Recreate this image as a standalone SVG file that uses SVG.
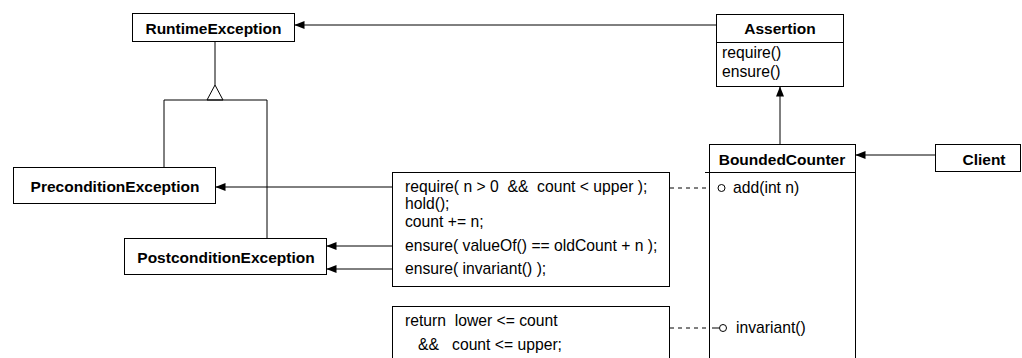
<svg xmlns="http://www.w3.org/2000/svg" width="1022" height="358" viewBox="0 0 1022 358">
<defs>
<style>
.box{fill:#fff;stroke:#000;stroke-width:1}
.ln{fill:none;stroke:#000;stroke-width:1}
.dash{fill:none;stroke:#000;stroke-width:1;stroke-dasharray:4 4}
.b{font-family:"Liberation Sans",Arial,Helvetica,sans-serif;font-weight:bold;font-size:15.5px;fill:#000}
.t{font-family:"Liberation Sans",Arial,Helvetica,sans-serif;font-size:15.7px;fill:#000;white-space:pre}
</style>
<marker id="arr" viewBox="0 0 10 8" refX="10" refY="4" markerWidth="10" markerHeight="8" markerUnits="userSpaceOnUse" orient="auto">
<path d="M0,0 L10,4 L0,8 Z" fill="#000"/>
</marker>
</defs>
<rect width="1022" height="358" fill="#fff"/>

<g id="connectors">
<line class="ln" x1="716" y1="25" x2="294.5" y2="25" marker-end="url(#arr)"/>
<line class="ln" x1="780" y1="144" x2="780" y2="86.5" marker-end="url(#arr)"/>
<line class="ln" x1="935" y1="155" x2="855.5" y2="155" marker-end="url(#arr)"/>
<line class="ln" x1="215" y1="41" x2="215" y2="85"/>
<path class="box" d="M215,85 L207,100 L223,100 Z"/>
<path class="ln" d="M164,167 V100 H267 V238"/>
<line class="ln" x1="392" y1="187" x2="215.5" y2="187" marker-end="url(#arr)"/>
<line class="ln" x1="392" y1="246" x2="326.5" y2="246" marker-end="url(#arr)"/>
<line class="ln" x1="392" y1="269" x2="326.5" y2="269" marker-end="url(#arr)"/>
<line class="dash" x1="670" y1="188" x2="709" y2="188"/>
<line class="dash" x1="670" y1="328" x2="709" y2="328"/>
</g>

<g id="RuntimeException">
<rect class="box" x="132.5" y="13.5" width="162" height="28"/>
<text class="b" x="213.5" y="33.5" text-anchor="middle">RuntimeException</text>
</g>

<g id="Assertion">
<rect class="box" x="716.5" y="14.5" width="127" height="72"/>
<line class="ln" x1="716.5" y1="42.5" x2="843.5" y2="42.5"/>
<text class="b" x="780" y="34" text-anchor="middle">Assertion</text>
<text class="t" x="722" y="57.5">require()</text>
<text class="t" x="722" y="77">ensure()</text>
</g>

<g id="PreconditionException">
<rect class="box" x="13.5" y="167.5" width="202" height="36"/>
<text class="b" x="115" y="192" text-anchor="middle">PreconditionException</text>
</g>

<g id="PostconditionException">
<rect class="box" x="124.5" y="238.5" width="202" height="36"/>
<text class="b" x="226" y="262.5" text-anchor="middle">PostconditionException</text>
</g>

<g id="AddNote">
<rect class="box" x="392.5" y="172.5" width="277" height="114"/>
<text class="t" x="405" y="192">require( n &gt; 0  &amp;&amp;  count &lt; upper );</text>
<text class="t" x="405" y="209">hold();</text>
<text class="t" x="405" y="227">count += n;</text>
<text class="t" x="405" y="251">ensure( valueOf() == oldCount + n );</text>
<text class="t" x="405" y="274">ensure( invariant() );</text>
</g>

<g id="InvariantNote">
<rect class="box" x="392.5" y="306.5" width="277" height="70"/>
<text class="t" x="405" y="326">return  lower &lt;= count</text>
<text class="t" x="405" y="350">   &amp;&amp;   count &lt;= upper;</text>
</g>

<g id="BoundedCounter">
<rect class="box" x="709.5" y="144.5" width="146" height="230"/>
<line class="ln" x1="705" y1="172.5" x2="855.5" y2="172.5"/>
<text class="b" x="782" y="165" text-anchor="middle">BoundedCounter</text>
<circle class="box" cx="721.5" cy="188" r="3.5"/>
<text class="t" x="733" y="193">add(int n)</text>
<line class="ln" x1="712" y1="328" x2="719" y2="328"/>
<circle class="box" cx="723" cy="328" r="3.5"/>
<text class="t" x="736" y="333">invariant()</text>
</g>

<g id="Client">
<rect class="box" x="935.5" y="144.5" width="85" height="27"/>
<text class="b" x="984" y="164.5" text-anchor="middle">Client</text>
</g>
</svg>
